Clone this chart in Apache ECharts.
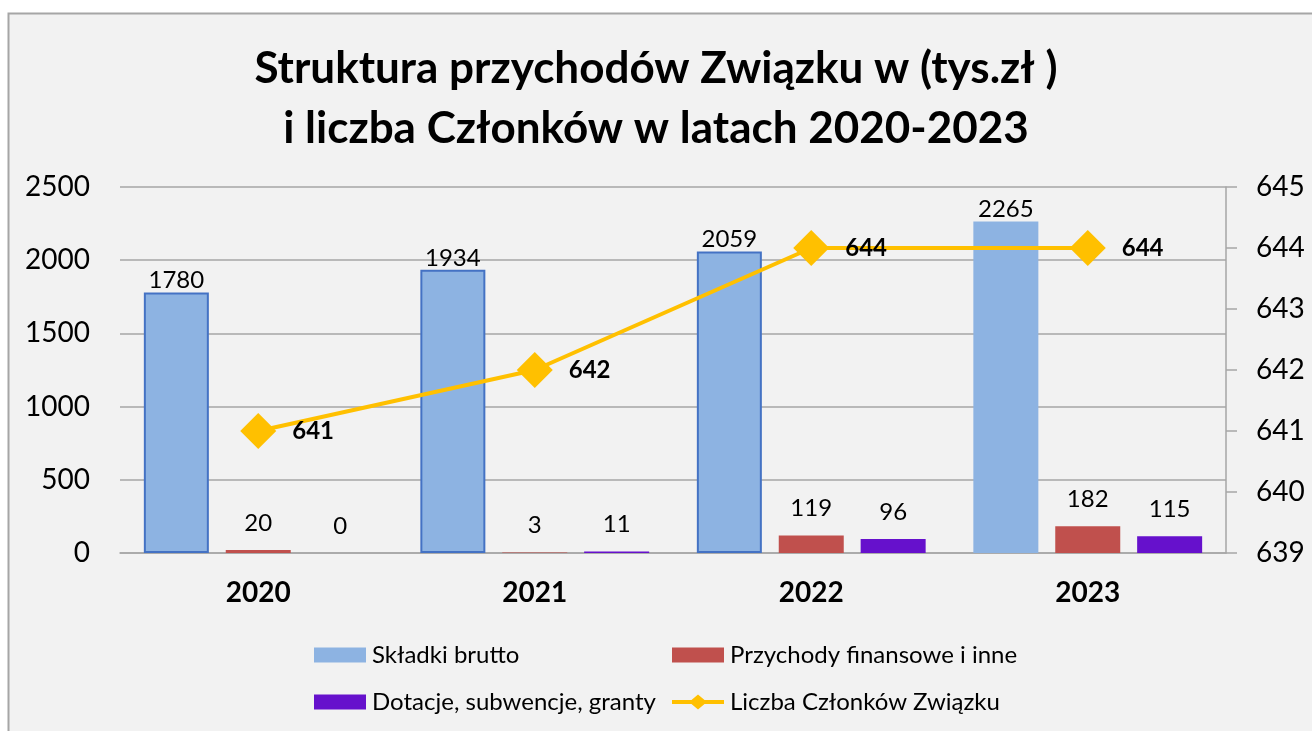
<!DOCTYPE html>
<html>
<head>
<meta charset="utf-8">
<script src="https://cdn.jsdelivr.net/npm/echarts@6/dist/echarts.min.js"></script>
<style>
  html, body { margin: 0; padding: 0; background: #fff; }
  #chart { width: 1312px; height: 731px; }
</style>
</head>
<body>
<div id="chart"></div>
<script>
  const years = ['2020', '2021', '2022', '2023']
  const skladki = [1780, 1934, 2059, 2265]
  const przychody = [20, 3, 119, 182]
  const dotacje = [0, 11, 96, 115]
  const czlonkowie = [641, 642, 644, 644]
  const leftTicks = { min: 0, max: 2500, interval: 500 }
  const rightTicks = { min: 639, max: 645, interval: 1 }

  const font = 'Lato, "Noto Sans", sans-serif'
  const gridColor = '#A6A6A6'
  // line + diamond legend symbol
  const lineIcon = 'path://M0,5.5L19.5,5.5L26,0L32.5,5.5L52,5.5L52,9.5L32.5,9.5L26,15L19.5,9.5L0,9.5Z'

  const myChart = echarts.init(document.getElementById('chart'))

  const legendItem = (name, left, top, icon) => ({
    data: [{ name: name, icon: icon || 'rect' }],
    left: left,
    top: top,
    padding: 0,
    itemWidth: 52,
    itemHeight: 15,
    itemGap: 6,
    textStyle: { fontFamily: font, fontSize: 24, color: '#000', padding: [0, 0, 0, 1] }
  })

  const barLabel = (dist) => ({
    show: true,
    position: 'top',
    distance: dist,
    fontFamily: font,
    fontSize: 24,
    color: '#000'
  })

  myChart.setOption({
    backgroundColor: '#fff',
    graphic: [{
      type: 'rect',
      z: -10,
      silent: true,
      shape: { x: 8.5, y: 13.5, width: 1400, height: 800 },
      style: { fill: '#F2F2F2', stroke: '#A6A6A6', lineWidth: 2 }
    }],
    title: {
      text: 'Struktura przychodów Związku w (tys.zł )\ni liczba Członków w latach 2020-2023',
      left: 'center',
      top: 34,
      textStyle: {
        fontFamily: font,
        fontWeight: 'bold',
        fontSize: 44,
        lineHeight: 60,
        color: '#000'
      }
    },
    legend: [
      legendItem('Składki brutto', 314, 643),
      legendItem('Przychody finansowe i inne', 672, 643),
      legendItem('Dotacje, subwencje, granty', 314, 690),
      legendItem('Liczba Członków Związku', 672, 690, lineIcon)
    ],
    grid: { left: 120, right: 86, top: 187, bottom: 178 },
    xAxis: {
      type: 'category',
      data: years,
      axisLine: { lineStyle: { color: gridColor, width: 1.5 } },
      axisTick: { show: false },
      axisLabel: {
        fontFamily: font,
        fontWeight: 'bold',
        fontSize: 28,
        color: '#000',
        margin: 26
      }
    },
    yAxis: [
      {
        type: 'value',
        min: leftTicks.min,
        max: leftTicks.max,
        interval: leftTicks.interval,
        axisLine: { show: false },
        axisTick: { show: false },
        axisLabel: {
          fontFamily: font, fontSize: 28, color: '#000', margin: 30,
          formatter: (v) => String(v)
        },
        splitLine: { lineStyle: { color: gridColor, width: 1.5 } }
      },
      {
        type: 'value',
        min: rightTicks.min,
        max: rightTicks.max,
        interval: rightTicks.interval,
        position: 'right',
        axisLine: { show: true, lineStyle: { color: gridColor, width: 1.5 } },
        axisTick: { show: true, length: 11, lineStyle: { color: gridColor, width: 1.5 } },
        axisLabel: {
          fontFamily: font, fontSize: 28, color: '#000', margin: 30,
          formatter: (v) => String(v)
        },
        splitLine: { show: false }
      }
    ],
    series: [
      {
        name: 'Składki brutto',
        type: 'bar',
        barWidth: 65,
        barGap: '26%',
        data: skladki.map((v, i) => ({
          value: v,
          itemStyle: i < 3
            ? { borderColor: '#4472C4', borderWidth: 2 }
            : { borderColor: '#8DB3E2', borderWidth: 0 }
        })),
        itemStyle: { color: '#8DB3E2' },
        label: barLabel(0)
      },
      {
        name: 'Przychody finansowe i inne',
        type: 'bar',
        barWidth: 65,
        barGap: '26%',
        data: przychody,
        itemStyle: { color: '#C0504D' },
        label: barLabel(15)
      },
      {
        name: 'Dotacje, subwencje, granty',
        type: 'bar',
        barWidth: 65,
        barGap: '26%',
        data: dotacje,
        itemStyle: { color: '#6611CC' },
        label: barLabel(15)
      },
      {
        name: 'Liczba Członków Związku',
        type: 'line',
        yAxisIndex: 1,
        data: czlonkowie,
        symbol: 'diamond',
        symbolSize: 36,
        itemStyle: { color: '#FFC000' },
        lineStyle: { color: '#FFC000', width: 4 },
        z: 5,
        label: {
          show: true,
          position: 'right',
          distance: 16,
          fontFamily: font,
          fontWeight: 'bold',
          fontSize: 24,
          color: '#000'
        }
      }
    ]
  })
</script>
</body>
</html>
